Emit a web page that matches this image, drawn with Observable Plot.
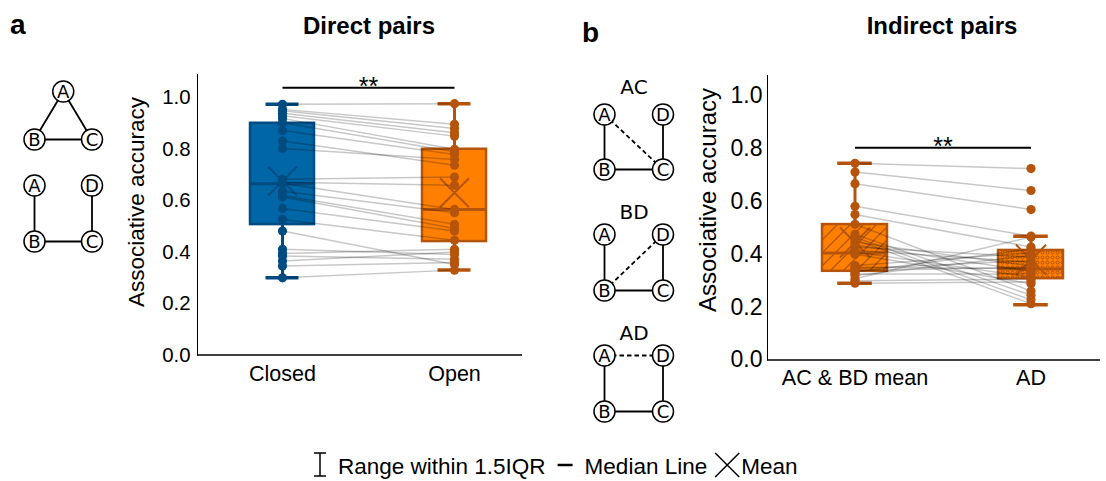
<!DOCTYPE html>
<html>
<head>
<meta charset="utf-8">
<script src="https://cdn.jsdelivr.net/npm/d3@7"></script>
<script src="https://cdn.jsdelivr.net/npm/@observablehq/plot@0.6"></script>
<style>
  html, body { margin: 0; padding: 0; background: #fff; }
  #fig { position: relative; width: 1106px; height: 481px; overflow: hidden;
         font-family: "Liberation Sans", Arial, sans-serif; }
  #fig > svg { position: absolute; }
</style>
</head>
<body>
<!-- fill patterns shared by the indirect-pair boxes -->
<svg width="0" height="0" style="position:absolute">
  <defs>
    <pattern id="hatch-diag" patternUnits="userSpaceOnUse" width="13" height="13">
      <path d="M0,13 L13,0 M-3,3 L3,-3 M10,16 L16,10" stroke="#B6540C" stroke-width="1.3" fill="none"/>
    </pattern>
    <pattern id="hatch-dots" patternUnits="userSpaceOnUse" width="5" height="5">
      <circle cx="2.5" cy="2.5" r="1.5" fill="none" stroke="#A84C08" stroke-width="0.9"/>
    </pattern>
  </defs>
</svg>
<div id="fig"></div>
<script>
// ---- Direct pairs: associative accuracy per participant (paired) ----
const directCategories = ["Closed", "Open"];
const directClosed = [0.975, 0.955, 0.950, 0.940, 0.930, 0.920, 0.903, 0.873, 0.832, 0.803,
                      0.683, 0.672, 0.668, 0.637, 0.620, 0.614, 0.570, 0.527, 0.482, 0.411,
                      0.395, 0.385, 0.365, 0.346, 0.300];
const directOpen   = [0.977, 0.897, 0.881, 0.864, 0.851, 0.800, 0.790, 0.780, 0.738, 0.760,
                      0.692, 0.660, 0.566, 0.553, 0.508, 0.492, 0.482, 0.446, 0.352, 0.391,
                      0.411, 0.372, 0.400, 0.360, 0.330];
// box summaries (Closed, Open)
const directLow    = [0.300, 0.330];
const directQ1     = [0.507, 0.441];
const directMedian = [0.666, 0.566];
const directQ3     = [0.901, 0.800];
const directHigh   = [0.975, 0.977];
const directMean   = [0.676, 0.631];
const directSig    = 1.039;

// ---- Indirect pairs ----
const indirectCategories = ["AC & BD mean", "AD"];
const indirectACBD = [0.745, 0.712, 0.668, 0.582, 0.551, 0.514, 0.476, 0.465, 0.456, 0.446,
                      0.436, 0.428, 0.416, 0.409, 0.401, 0.358, 0.351, 0.346, 0.339, 0.333,
                      0.326, 0.320, 0.308, 0.300, 0.291];
const indirectAD   = [0.725, 0.642, 0.570, 0.469, 0.428, 0.261, 0.245, 0.228, 0.213, 0.356,
                      0.336, 0.390, 0.371, 0.314, 0.289, 0.406, 0.346, 0.376, 0.351, 0.420,
                      0.326, 0.396, 0.466, 0.306, 0.296];
const indirectLow    = [0.291, 0.209];
const indirectQ1     = [0.336, 0.308];
const indirectMedian = [0.405, 0.345];
const indirectQ3     = [0.513, 0.415];
const indirectHigh   = [0.745, 0.469];
const indirectMean   = [0.445, 0.380];
const indirectSig    = 0.804;

const yTicks = [0, 0.2, 0.4, 0.6, 0.8, 1.0];

// ---- colours ----
const blueFill = "#0066A6", blueDark = "#004B80";
const orangeFill = "#FF8000", orangeDark = "#B6540C";

// X-shaped marker for the mean
const crossSymbol = {
  draw(context, size) {
    const s = Math.sqrt(size / Math.PI);
    context.moveTo(-s, -s); context.lineTo(s, s);
    context.moveTo(s, -s); context.lineTo(-s, s);
  }
};

const fig = document.getElementById("fig");

function place(svg, left, top) {
  svg.style.position = "absolute";
  svg.style.left = left + "px";
  svg.style.top = top + "px";
  fig.appendChild(svg);
  return svg;
}

function boxPanel(cfg) {
  const {categories, series, low, q1, median, q3, high, mean, fills, patterns, darks,
         sig, yTop, width, height, marginLeft, marginTop, marginBottom, xRange,
         paddingInner, capInset, crossR, yTickSize, yTickPad, xTickSize, xTickPad} = cfg;
  const stats = categories.map((cat, i) => ({
    cat, low: low[i], q1: q1[i], median: median[i], q3: q3[i], high: high[i],
    mean: mean[i], fill: fills[i], pattern: patterns[i], dark: darks[i]
  }));
  const points = categories.flatMap((cat, i) => series[i].map(v => ({cat, v, dark: darks[i]})));
  const pairs = series[0].map((a, j) => ({a, b: series[1][j]}));
  const step = (xRange[1] - xRange[0]) / 2;

  const marks = [Plot.ruleY([0], {stroke: "#000", strokeWidth: 1.6})];
  for (const s of stats) {
    marks.push(
      Plot.ruleX([s], {x: "cat", y1: "low", y2: "high", stroke: s.dark, strokeWidth: 3}),
      Plot.barY([s], {x: "cat", y1: "q1", y2: "q3", fill: s.fill}),
    );
    if (s.pattern) marks.push(Plot.barY([s], {x: "cat", y1: "q1", y2: "q3", fill: s.pattern}));
    marks.push(
      Plot.barY([s], {x: "cat", y1: "q1", y2: "q3", fill: "none", stroke: s.dark, strokeWidth: 2.5}),
      Plot.dot([s], {x: "cat", y: "mean", symbol: crossSymbol, r: crossR, fill: "none", stroke: s.dark, strokeWidth: 2}),
      Plot.tickY([s], {x: "cat", y: "median", stroke: s.dark, strokeWidth: 3}),
      Plot.tickY([s], {x: "cat", y: "low", stroke: s.dark, strokeWidth: 3.5, insetLeft: capInset, insetRight: capInset}),
      Plot.tickY([s], {x: "cat", y: "high", stroke: s.dark, strokeWidth: 3.5, insetLeft: capInset, insetRight: capInset})
    );
  }
  marks.push(
    Plot.link(pairs, {x1: () => categories[0], x2: () => categories[1], y1: "a", y2: "b",
                      stroke: "#000", strokeOpacity: 0.22, strokeWidth: 1.5}),
    Plot.dot(points, {x: "cat", y: "v", r: 4.6, fill: "dark"}),
    Plot.link([sig], {x1: () => categories[0], x2: () => categories[1], y1: d => d, y2: d => d,
                      stroke: "#000", strokeWidth: 2}),
    Plot.text([sig], {x: () => categories[0], y: d => d, text: () => "**", dx: step / 2, dy: -1,
                      fontSize: 25, fill: "#000"})
  );

  const svg = Plot.plot({
    width, height, marginLeft, marginRight: 0, marginTop, marginBottom,
    style: {background: "transparent", fontFamily: "Liberation Sans, Arial, sans-serif", fontSize: "20px", overflow: "visible"},
    x: {type: "band", domain: categories, range: xRange, paddingInner, paddingOuter: paddingInner / 2,
        align: 0.5, tickSize: 0, tickPadding: xTickPad, label: null},
    y: {domain: [0, yTop], ticks: yTicks, tickFormat: d => d.toFixed(1), tickSize: 0,
        tickPadding: yTickPad, line: true, label: null},
    marks
  });
  d3.select(svg).selectAll('g[aria-label^="x-axis"] text').style("font-size", xTickSize + "px");
  d3.select(svg).selectAll('g[aria-label^="y-axis"] text').style("font-size", yTickSize + "px");
  d3.select(svg).selectAll('g[aria-label^="y-axis"] path, g[aria-label^="y-axis"] line')
    .attr("stroke-width", 1.6).attr("stroke", "#000");
  return svg;
}

// Panel a
place(boxPanel({
  categories: directCategories, series: [directClosed, directOpen],
  low: directLow, q1: directQ1, median: directMedian, q3: directQ3, high: directHigh, mean: directMean,
  fills: [blueFill, orangeFill], patterns: [null, null], darks: [blueDark, orangeDark],
  sig: directSig, yTop: 1.0906, width: 412, height: 330, marginLeft: 87, marginTop: 14, marginBottom: 35.5,
  xRange: [86, 430], paddingInner: 0.628, capInset: 15.5, crossR: 14.5,
  yTickSize: 20.4, yTickPad: 7, xTickSize: 21.5, xTickPad: 11
}), 110, 60);

// Panel b
place(boxPanel({
  categories: indirectCategories, series: [indirectACBD, indirectAD],
  low: indirectLow, q1: indirectQ1, median: indirectMedian, q3: indirectQ3, high: indirectHigh, mean: indirectMean,
  fills: [orangeFill, orangeFill], patterns: ["url(#hatch-diag)", "url(#hatch-dots)"], darks: [orangeDark, orangeDark],
  sig: indirectSig, yTop: 1.0777, width: 410, height: 340, marginLeft: 77, marginTop: 15, marginBottom: 40.5,
  xRange: [76, 428], paddingInner: 0.631, capInset: 15.2, crossR: 15,
  yTickSize: 23, yTickPad: 5, xTickSize: 21.6, xTickPad: 10
}), 690, 60);

// ---- pair-structure diagrams ----
const triangleNodes = [{id: "A", col: 0.5, row: 0}, {id: "B", col: 0, row: 1}, {id: "C", col: 1, row: 1}];
const triangleEdges = [["A", "B"], ["A", "C"], ["B", "C"]];
const squareNodes = [{id: "A", col: 0, row: 0}, {id: "D", col: 1, row: 0}, {id: "B", col: 0, row: 1}, {id: "C", col: 1, row: 1}];
const chainEdges = [["A", "B"], ["B", "C"], ["C", "D"]];
const acEdges = [...chainEdges, ["A", "C", true]];
const bdEdges = [...chainEdges, ["B", "D", true]];
const adEdges = [...chainEdges, ["A", "D", true]];

function graph(nodes, edges, w, h) {
  const byId = new Map(nodes.map(d => [d.id, d]));
  const links = edges.map(([a, b, dashed]) => ({a: byId.get(a), b: byId.get(b), dashed: !!dashed}));
  const link = (data, extra) => Plot.link(data, {x1: d => d.a.col, y1: d => d.a.row, x2: d => d.b.col, y2: d => d.b.row,
                                                 stroke: "#000", strokeWidth: 1.8, ...extra});
  return Plot.plot({
    width: w + 24, height: h + 24, margin: 12,
    style: {background: "transparent", overflow: "visible"},
    x: {domain: [0, 1], axis: null},
    y: {domain: [0, 1], axis: null, reverse: true},
    marks: [
      link(links.filter(d => !d.dashed), {}),
      link(links.filter(d => d.dashed), {strokeDasharray: "4.5,3"}),
      Plot.dot(nodes, {x: "col", y: "row", r: 10.5, fill: "#fff", stroke: "#000", strokeWidth: 1.5}),
      Plot.text(nodes, {x: "col", y: "row", text: "id", fontSize: 18, fontFamily: "DejaVu Sans", fill: "#000", dy: 0.5})
    ]
  });
}
place(graph(triangleNodes, triangleEdges, 57.5, 48), 21.5, 79);
place(graph(squareNodes, chainEdges, 57.5, 56), 21.5, 173);
place(graph(squareNodes, acEdges, 58.5, 55), 591.5, 101.5);
place(graph(squareNodes, bdEdges, 58.5, 56), 591.5, 221.5);
place(graph(squareNodes, adEdges, 58.5, 56), 591.5, 343);

// ---- titles, axis titles, legend ----
const overlay = d3.create("svg").attr("width", 1106).attr("height", 481)
  .style("left", "0px").style("top", "0px").style("pointer-events", "none")
  .attr("font-family", "Liberation Sans, Arial, sans-serif");
fig.appendChild(overlay.node());
function label(txt, x, y, size, opts = {}) {
  const t = overlay.append("text").attr("x", x).attr("y", y).attr("font-size", size)
    .attr("text-anchor", opts.anchor || "start").attr("fill", "#000").text(txt);
  if (opts.bold) t.attr("font-weight", "bold");
  if (opts.family) t.attr("font-family", opts.family);
  if (opts.rotate) t.attr("transform", `rotate(-90 ${x} ${y})`);
  return t;
}
label("a", 10, 34, 28, {bold: true});
label("b", 582, 42, 28, {bold: true});
label("Direct pairs", 369, 34, 24, {bold: true, anchor: "middle"});
label("Indirect pairs", 942, 34, 24, {bold: true, anchor: "middle"});
label("Associative accuracy", 144, 202, 22.5, {anchor: "middle", rotate: true});
label("Associative accuracy", 716, 200, 24, {anchor: "middle", rotate: true});
label("AC", 634, 94, 20, {anchor: "middle", family: "DejaVu Sans"});
label("BD", 634, 219, 20, {anchor: "middle", family: "DejaVu Sans"});
label("AD", 634, 340, 20, {anchor: "middle", family: "DejaVu Sans"});

// legend: whisker glyph, median dash, mean cross, each followed by its text
const legendSize = 22.5, legendBase = 474, legendMid = 465;
const g = overlay.append("g").attr("stroke", "#000").attr("fill", "none");
let cx = 314;
g.append("path").attr("d", `M${cx + 6},453 V476 M${cx},453 H${cx + 12} M${cx},476 H${cx + 12}`).attr("stroke-width", 1.5);
cx += 24;
cx += label("Range within 1.5IQR", cx, legendBase, legendSize).node().getComputedTextLength() + 12;
g.append("path").attr("d", `M${cx},${legendMid} H${cx + 15}`).attr("stroke-width", 2.5);
cx += 27;
cx += label("Median Line", cx, legendBase, legendSize).node().getComputedTextLength() + 8;
g.append("path").attr("d", `M${cx},453 L${cx + 24},477 M${cx + 24},453 L${cx},477`).attr("stroke-width", 1.5);
cx += 26;
label("Mean", cx, legendBase, legendSize);
</script>
</body>
</html>
